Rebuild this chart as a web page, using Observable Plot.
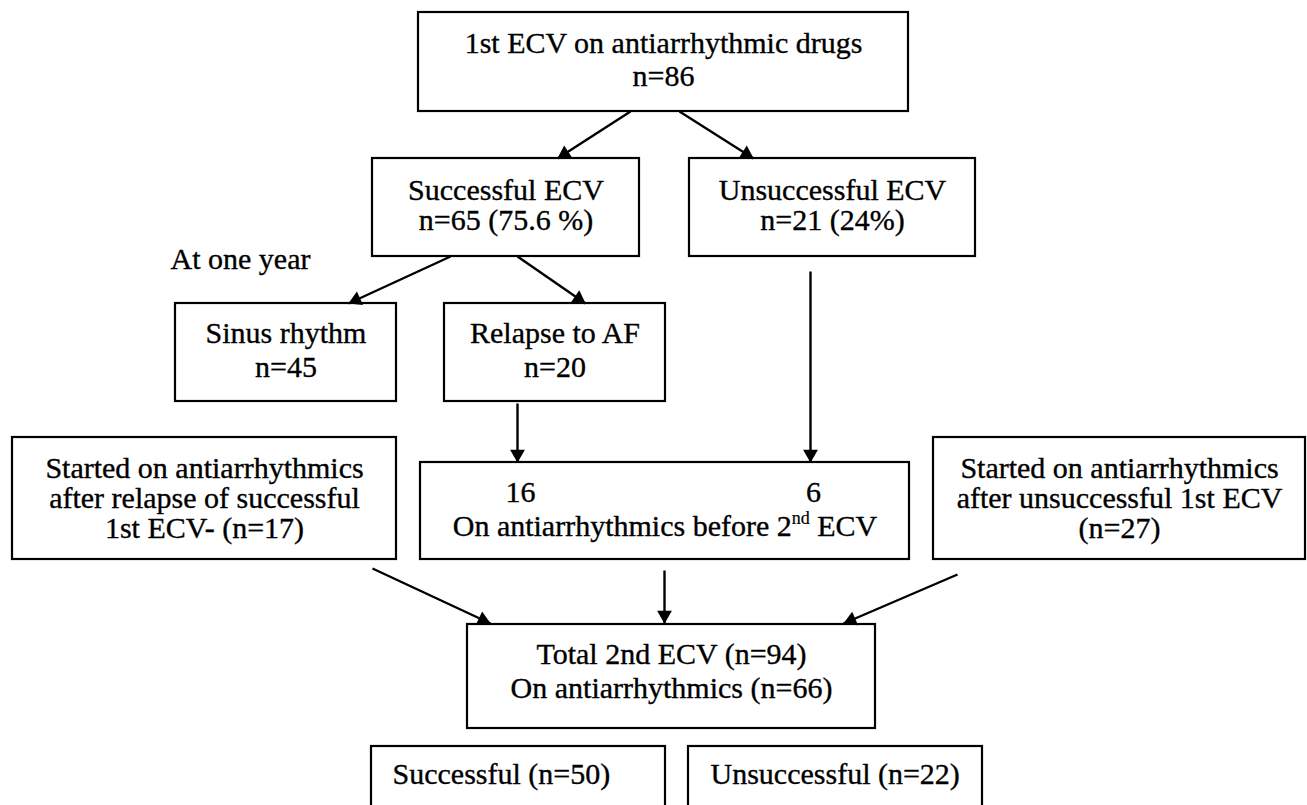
<!DOCTYPE html>
<html>
<head>
<meta charset="utf-8">
<script src="https://cdn.jsdelivr.net/npm/d3@7"></script>
<script src="https://cdn.jsdelivr.net/npm/@observablehq/plot@0.6"></script>
<style>
  html, body { margin: 0; padding: 0; background: #fff; overflow: hidden; }
</style>
</head>
<body>
<div id="chart"></div>
<script>
// ---------- content (text of each box) ----------
const nodeIds = ["first", "succ", "unsucc", "sinus", "relapse", "leftStart", "onAA", "rightStart", "total", "succ2", "unsucc2"];
const firstLines = ["1st ECV on antiarrhythmic drugs", "n=86"];
const succLines = ["Successful ECV", "n=65 (75.6 %)"];
const unsuccLines = ["Unsuccessful ECV", "n=21 (24%)"];
const sinusLines = ["Sinus rhythm", "n=45"];
const relapseLines = ["Relapse to AF", "n=20"];
const leftStartLines = ["Started on antiarrhythmics", "after relapse of successful", "1st ECV- (n=17)"];
const rightStartLines = ["Started on antiarrhythmics", "after unsuccessful 1st ECV", "(n=27)"];
const onAACounts = ["16", "6"];
const onAAParts = ["On antiarrhythmics before 2", "nd", " ECV"];
const totalLines = ["Total 2nd ECV (n=94)", "On antiarrhythmics (n=66)"];
const succ2Lines = ["Successful (n=50)"];
const unsucc2Lines = ["Unsuccessful (n=22)"];
const noteText = ["At one year"];

// ---------- layout (pixel frame 1307 x 805) ----------
const W = 1307, H = 805;
const FONT = "Liberation Serif", FS = 30, SUPFS = 18;
const boxLeft   = [418, 372, 689, 175, 444,  12, 420,  933, 467, 371, 688];
const boxRight  = [908, 639, 975, 396, 665, 396, 909, 1305, 875, 665, 982];
const boxTop    = [ 12, 158, 158, 303, 303, 437, 462,  437, 624, 746, 746];
const boxBottom = [111, 256, 256, 401, 401, 559, 559,  559, 728, 812, 812];
const centeredLines = [firstLines, succLines, unsuccLines, sinusLines, relapseLines, leftStartLines, null, rightStartLines, totalLines];
const lineBaselines = [[52, 85], [199, 229], [199, 229], [342, 376], [342, 376], [477, 507, 537], null, [477, 507, 537], [663, 697]];
const leftTextX = [392, 710], leftTextY = 783;
const countX = [520, 813], countY = 501, onAAY = 535;
const noteX = 170, noteY = 268;
// arrows: start point and tip point
const arrowFrom = [[630,111],[679,111],[450,256],[517,256],[517,403],[810,271],[372,568],[664,570],[957,574]];
const arrowTo   = [[557,158],[753,158],[348,303],[585,303],[517,462],[810,462],[490,623],[664,623],[843,623]];

// ---------- build mark data ----------
const boxes = nodeIds.map((id, i) => ({id, x1: boxLeft[i], x2: boxRight[i], y1: boxTop[i], y2: boxBottom[i]}));
const centeredRows = [];
centeredLines.forEach((lines, i) => {
  if (!lines) return;
  const cx = (boxLeft[i] + boxRight[i]) / 2;
  lines.forEach((t, j) => centeredRows.push({x: cx, y: lineBaselines[i][j], t}));
});
const leftRows = [succ2Lines[0], unsucc2Lines[0]].map((t, i) => ({x: leftTextX[i], y: leftTextY, t}));
leftRows.push({x: noteX, y: noteY, t: noteText[0]});
const countRows = onAACounts.map((t, i) => ({x: countX[i], y: countY, t}));

// superscript line, centred in its box using measured widths
const ctx = document.createElement("canvas").getContext("2d");
function tw(s, size) { ctx.font = `${size}px "${FONT}"`; return ctx.measureText(s).width; }
const wA = tw(onAAParts[0], FS), wB = tw(onAAParts[1], SUPFS), wC = tw(onAAParts[2], FS);
const onAACx = (boxLeft[6] + boxRight[6]) / 2;
const startX = onAACx - (wA + wB + wC) / 2;
const mainParts = [{x: startX, y: onAAY, t: onAAParts[0]}, {x: startX + wA + wB, y: onAAY, t: onAAParts[2]}];
const supParts = [{x: startX + wA, y: onAAY - 12, t: onAAParts[1]}];

const links = arrowFrom.map((f, i) => ({x1: f[0], y1: f[1], x2: arrowTo[i][0], y2: arrowTo[i][1]}));
const heads = links.map(l => {
  const dx = l.x2 - l.x1, dy = l.y2 - l.y1, len = Math.hypot(dx, dy);
  const back = 8.4;
  return {x: l.x2 - dx / len * back, y: l.y2 - dy / len * back, a: Math.atan2(dy, dx) * 180 / Math.PI + 90};
});

const textOpts = {fontFamily: FONT, fontSize: FS, fill: "black", stroke: "black", strokeWidth: 0.35, lineAnchor: "bottom"};

const chart = Plot.plot({
  width: W,
  height: H,
  margin: 0,
  style: {background: "#fff", overflow: "hidden"},
  x: {domain: [0, W], range: [0, W], axis: null},
  y: {domain: [0, H], range: [0, H], axis: null},
  marks: [
    Plot.rect(boxes, {x1: "x1", x2: "x2", y1: "y1", y2: "y2", fill: "none", stroke: "black", strokeWidth: 2.2}),
    Plot.link(links, {x1: "x1", y1: "y1", x2: "x2", y2: "y2", stroke: "black", strokeWidth: 2.4}),
    Plot.dot(heads, {x: "x", y: "y", rotate: "a", symbol: "triangle", r: 5.5, fill: "black", stroke: "none"}),
    Plot.text(centeredRows, {x: "x", y: "y", text: "t", textAnchor: "middle", ...textOpts}),
    Plot.text(leftRows, {x: "x", y: "y", text: "t", textAnchor: "start", ...textOpts}),
    Plot.text(countRows, {x: "x", y: "y", text: "t", textAnchor: "middle", ...textOpts}),
    Plot.text(mainParts, {x: "x", y: "y", text: "t", textAnchor: "start", ...textOpts}),
    Plot.text(supParts, {x: "x", y: "y", text: "t", textAnchor: "start", ...textOpts, fontSize: SUPFS, strokeWidth: 0.2})
  ]
});
document.getElementById("chart").appendChild(chart);
</script>
</body>
</html>
